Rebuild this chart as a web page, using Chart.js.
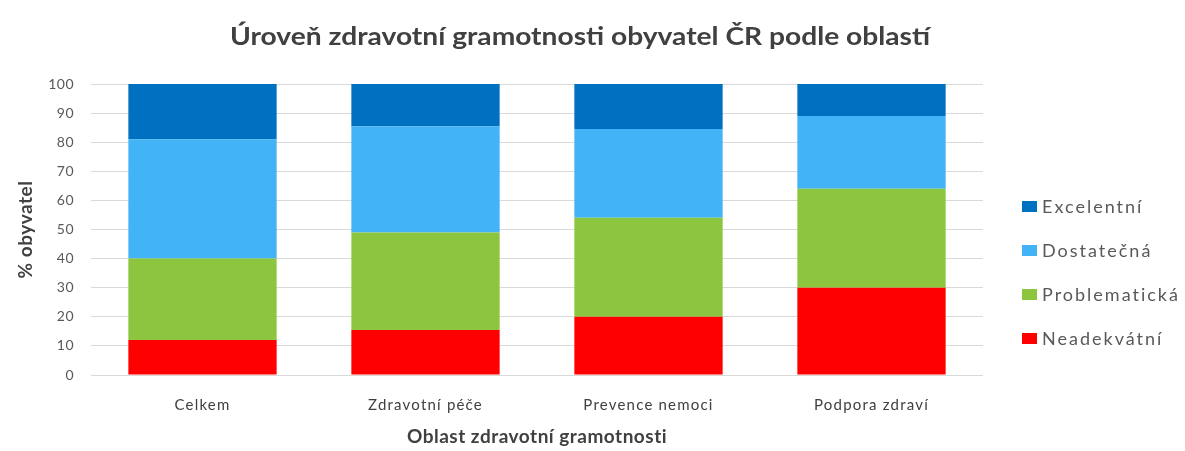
<!DOCTYPE html>
<html lang="cs">
<head>
<meta charset="utf-8">
<script src="https://cdn.jsdelivr.net/npm/chart.js@4/dist/chart.umd.min.js"></script>
<style>
  html, body { margin: 0; padding: 0; background: #fff; }
  #wrap { width: 1185px; height: 451px; position: relative; }
</style>
</head>
<body>
<div id="wrap"><canvas id="gramotnostChart"></canvas></div>
<script>
// --- Données ---
const categories = ['Celkem', 'Zdravotní péče', 'Prevence nemoci', 'Podpora zdraví'];
const neadekvatni = [12, 15.5, 20, 30];
const problematicka = [28, 33.5, 34, 34];
const dostatecna = [41, 36.5, 30.5, 25];
const excelentni = [19, 14.5, 15.5, 11];
const yTicks = [0, 10, 20, 30, 40, 50, 60, 70, 80, 90, 100];
const chartTitle = 'Úroveň zdravotní gramotnosti obyvatel ČR podle oblastí';

const FONT = 'Lato, "Noto Sans", sans-serif';

// le graphique d'origine est un peu étiré en largeur : on espace les lettres
const spacing = {
  id: 'spacing',
  beforeDraw(chart) { chart.ctx.letterSpacing = '0.5px'; },       // axe Y
  afterDatasetsDraw(chart) { chart.ctx.letterSpacing = '1.2px'; }  // axe X (z = 1)
};

// titre + légende dessinés à la main
const decor = {
  id: 'decor',
  afterDraw(chart) {
    const ctx = chart.ctx;
    ctx.save();
    // titre, élargi horizontalement
    ctx.letterSpacing = '0px';
    ctx.font = 'bold 24px ' + FONT;
    ctx.fillStyle = '#404040';
    ctx.textBaseline = 'middle';
    ctx.textAlign = 'center';
    const w = ctx.measureText(chartTitle).width;
    const sx = 700 / w;
    ctx.translate(580, 37);
    ctx.scale(sx, 1);
    ctx.fillText(chartTitle, 0, 0);
    ctx.restore();

    // légende à droite (ordre inversé, comme Excel)
    const items = chart.data.datasets.slice().reverse();
    const x = 1022, y0 = 206, step = 44;
    ctx.save();
    ctx.font = '18px ' + FONT;
    ctx.letterSpacing = '2px';
    ctx.textBaseline = 'middle';
    ctx.textAlign = 'left';
    items.forEach((ds, i) => {
      const y = y0 + i * step;
      ctx.fillStyle = ds.backgroundColor;
      ctx.fillRect(x, y - 5, 15, 11);
      ctx.fillStyle = '#595959';
      ctx.fillText(ds.label, x + 20, y + 1);
    });
    ctx.restore();
  }
};

const ctx = document.getElementById('gramotnostChart').getContext('2d');
new Chart(ctx, {
  type: 'bar',
  data: {
    labels: categories,
    datasets: [
      { label: 'Neadekvátní', data: neadekvatni, backgroundColor: '#ff0000' },
      { label: 'Problematická', data: problematicka, backgroundColor: '#8cc63f' },
      { label: 'Dostatečná', data: dostatecna, backgroundColor: '#41b3f6' },
      { label: 'Excelentní', data: excelentni, backgroundColor: '#0070c0' }
    ]
  },
  options: {
    responsive: true,
    maintainAspectRatio: false,
    animation: false,
    categoryPercentage: 1,
    barPercentage: 0.665,
    layout: { padding: { left: 0, right: 202, top: 84, bottom: 0 } },
    plugins: {
      legend: { display: false },
      tooltip: { enabled: false },
      title: { display: false }
    },
    scales: {
      x: {
        stacked: true,
        grid: { display: false, drawTicks: false },
        border: { display: false },
        ticks: { color: '#404040', font: { family: FONT, size: 15 }, padding: 21, z: 1 },
        title: {
          display: true,
          text: 'Oblast zdravotní gramotnosti',
          color: '#404040',
          font: { family: FONT, size: 19, weight: 'bold' },
          padding: { top: 4, bottom: 3 }
        },
        afterFit(scale) { scale.height = 76; }
      },
      y: {
        stacked: true,
        min: 0,
        max: 100,
        afterBuildTicks(scale) { scale.ticks = yTicks.map(v => ({ value: v })); },
        grid: { color: '#d9d9d9', drawTicks: false },
        border: { display: false },
        ticks: { color: '#595959', font: { family: FONT, size: 14 }, padding: 17 },
        title: {
          display: true,
          text: '% obyvatel',
          color: '#404040',
          font: { family: FONT, size: 19, weight: 'bold' },
          padding: { top: 14, bottom: 0 }
        },
        afterFit(scale) { scale.width = 91; }
      }
    }
  },
  plugins: [spacing, decor]
});
</script>
</body>
</html>
